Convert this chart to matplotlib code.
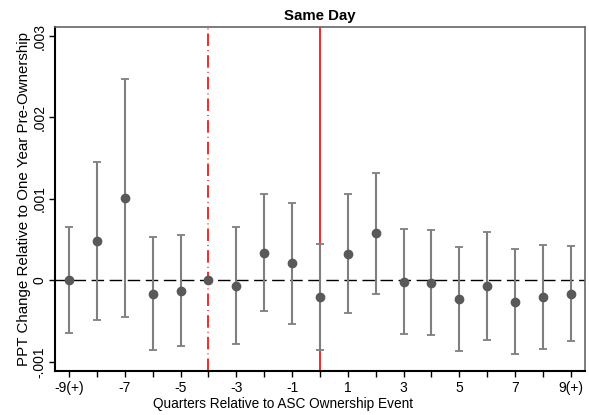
import matplotlib
matplotlib.use("Agg")
import matplotlib.pyplot as plt

plt.rcParams['font.family'] = ['Liberation Sans', 'DejaVu Sans']

# quarters relative to event, point estimates and 95% CI bounds (x 1e-3)
quarters = [-9, -8, -7, -6, -5, -4, -3, -2, -1, 0, 1, 2, 3, 4, 5, 6, 7, 8, 9]
estimate = [0.0, 0.484, 1.008, -0.168, -0.127, 0.0, -0.070, 0.340, 0.209,
            -0.201, 0.320, 0.582, -0.016, -0.029, -0.234, -0.070, -0.262, -0.205, -0.164]
ci_high = [0.656, 1.459, 2.471, 0.533, 0.561, 0.0, 0.660, 1.066, 0.955,
           0.451, 1.057, 1.324, 0.635, 0.615, 0.410, 0.594, 0.385, 0.439, 0.426]
ci_low = [-0.643, -0.488, -0.451, -0.857, -0.803, 0.0, -0.779, -0.373, -0.533,
          -0.852, -0.406, -0.164, -0.664, -0.668, -0.873, -0.730, -0.902, -0.848, -0.750]

estimate = [v / 1000 for v in estimate]
ci_high = [v / 1000 for v in ci_high]
ci_low = [v / 1000 for v in ci_low]

tick_pos = [-9, -7, -5, -3, -1, 1, 3, 5, 7, 9]
tick_labels = ["-9(+)", "-7", "-5", "-3", "-1", "1", "3", "5", "7", "9(+)"]
ytick_pos = [-0.001, 0, 0.001, 0.002, 0.003]
ytick_labels = ["-.001", "0", ".001", ".002", ".003"]

fig = plt.figure(figsize=(5.89, 4.15), dpi=100)
ax = fig.add_axes([0.0934, 0.1067, 0.8996, 0.829])

# reference lines
ax.axhline(0, color="black", linestyle=(0, (9, 4)), linewidth=1, zorder=1)
ax.axvline(-4, color="red", linestyle=(0, (7.5, 2.5, 0.5, 2.5)), linewidth=1.2, zorder=1)
ax.axvline(0, color="red", linestyle="-", linewidth=1.2, zorder=1)

# error bars (skip the omitted reference quarter)
for q, lo, hi in zip(quarters, ci_low, ci_high):
    if lo == hi:
        continue
    ax.errorbar([q], [(lo + hi) / 2], yerr=[[(hi - lo) / 2], [(hi - lo) / 2]],
                fmt="none", ecolor="#7f7f7f", elinewidth=1.5, capsize=3.2, capthick=1.3,
                zorder=2)
ax.plot(quarters, estimate, "o", color="#595959", markersize=6, zorder=3)

ax.set_xlim(-9.5, 9.5)
ax.set_ylim(-0.00111, 0.003115)
ax.set_xticks(quarters, minor=True)
ax.set_xticks(tick_pos)
ax.set_xticklabels(tick_labels)
ax.set_yticks(ytick_pos)
ax.set_yticklabels(ytick_labels, rotation=90, va="center")
ax.tick_params(axis="both", which="both", direction="out", length=4, width=1,
               labelsize=10, colors="black")
ax.tick_params(axis="y", pad=2)

for side in ["top", "right"]:
    ax.spines[side].set_color("#666666")
    ax.spines[side].set_linewidth(1.2)
for side in ["left", "bottom"]:
    ax.spines[side].set_color("black")
    ax.spines[side].set_linewidth(1.5)

ax.set_title("Same Day", fontsize=10.8, fontweight="bold", pad=5)
ax.set_xlabel("Quarters Relative to ASC Ownership Event", fontsize=9.8, labelpad=1, x=0.43)
ax.set_ylabel("PPT Change Relative to One Year Pre-Ownership", fontsize=10.9, labelpad=1)

fig.savefig("out.png", dpi=100)
